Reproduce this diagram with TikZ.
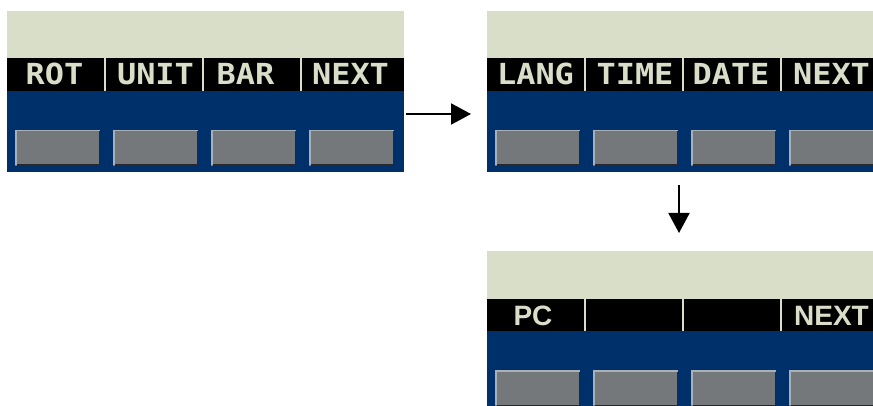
\documentclass[tikz,border=0pt]{standalone}
\usepackage{fontspec}
\usetikzlibrary{arrows.meta}
\newfontfamily\lcdfont[FakeStretch=1.1]{DejaVu Sans Mono}
\newfontfamily\lcdsans{Liberation Sans}
\definecolor{lcdgreen}{RGB}{216,222,200}
\definecolor{bezelblue}{RGB}{0,48,106}
\definecolor{keygray}{RGB}{117,120,122}
\definecolor{keylight}{RGB}{168,176,184}
\definecolor{keydark}{RGB}{40,40,44}
\tikzset{
  lcd/.style={fill=lcdgreen},
  band/.style={fill=black},
  bezel/.style={fill=bezelblue},
  sep/.style={draw=lcdgreen,line width=2pt},
  keytext/.style={text=lcdgreen,inner sep=0pt,anchor=base,
    font=\lcdfont\bfseries\fontsize{29}{29}\selectfont},
  keytextb/.style={keytext,font=\lcdsans\bfseries\fontsize{28}{28}\selectfont},
  flow/.style={line width=2pt,-{Triangle[length=20pt,width=21pt]}}
}

\begin{document}
\begin{tikzpicture}[x=1pt,y=-1pt]
        \useasboundingbox (0,0) rectangle (873,406);
        \clip (0,0) rectangle (873,406);

        % Screens
        \foreach \dx/\dy in {0/0,480/0,480/240} {
          \begin{scope}[shift={(\dx,\dy)}]
            \path [lcd]   (7,11) rectangle (404,58.5);
            \path [band]  (7,58.5) rectangle (404,91);
            \path [bezel] (7,91) rectangle (404,172);
            \draw [sep] (105,58.5) -- (105,91);
            \draw [sep] (203,58.5) -- (203,91);
            \draw [sep] (301,58.5) -- (301,91);
            % Soft keys
            \foreach \kx in {15,113,211,309} {
              \path [fill=keygray] (\kx,130) rectangle (\kx+85,166);
              \draw [keylight,line width=1.5pt] (\kx+0.75,165) -- (\kx+0.75,130.75) -- (\kx+85,130.75);
              \draw [keydark,line width=1.5pt] (\kx+84.25,131.5) -- (\kx+84.25,165.25) -- (\kx+1.5,165.25);
            }
          \end{scope}
        }

        % Labels
        \node [keytext] (rot)   at (54.5,85)  {ROT};
        \node [keytext] (unit)  at (155.5,85) {UNIT};
        \node [keytext] (bar)   at (245.5,85) {BAR};
        \node [keytext] (nexta) at (350.5,85) {NEXT};
        \node [keytext] (lang)  at (535.5,85) {LANG};
        \node [keytext] (time)  at (635,85)   {TIME};
        \node [keytext] (date)  at (731,85)   {DATE};
        \node [keytext] (nextb) at (831.5,85) {NEXT};
        \node [keytextb] (pc)    at (533,325)  {PC};
        \node [keytextb] (nextc) at (831.5,325) {NEXT};

        % Arrows
        \coordinate (menua) at (406,114);
        \coordinate (menub) at (471,114);
        \coordinate (menuc) at (679,185);
        \coordinate (menud) at (679,233);
        \draw [flow] (menua) -- (menub);
        \draw [flow] (menuc) -- (menud);
    \end{tikzpicture}
\end{document}
